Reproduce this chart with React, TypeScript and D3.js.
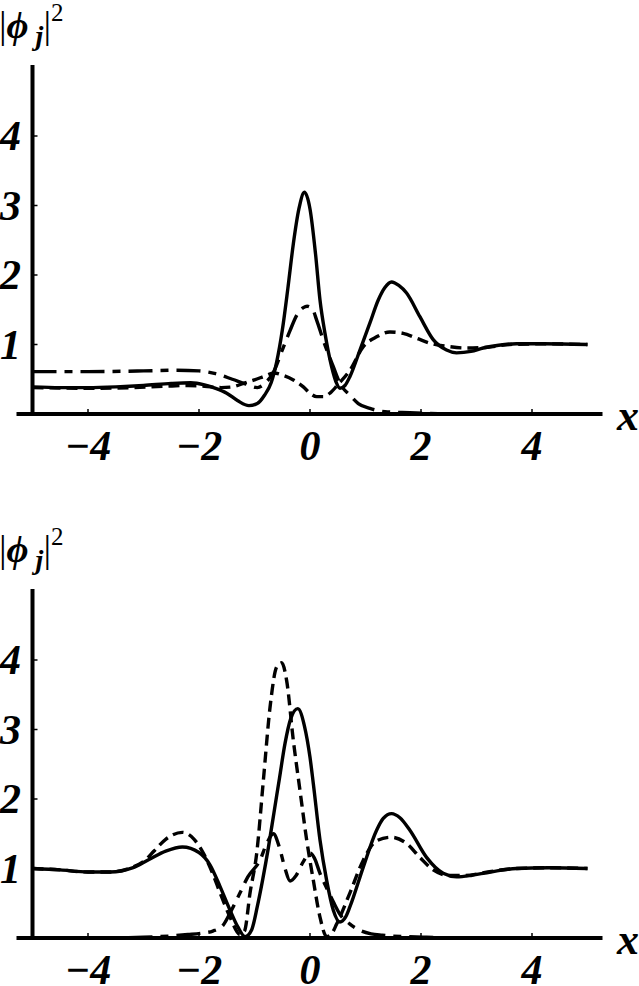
import React from 'react';
import * as d3 from 'd3';

type Pt = [number, number];

// axis ticks
const X_TICKS = [-4, -2, 0, 2, 4];
const Y_TICKS = [1, 2, 3, 4];

// upper panel
const topSolid: Pt[] = [
  [-5, 0.39], [-4.5, 0.38], [-4, 0.38], [-3.5, 0.39], [-3, 0.41], [-2.5, 0.44], [-2.15, 0.45],
  [-1.9, 0.42], [-1.7, 0.37], [-1.5, 0.3], [-1.3, 0.19], [-1.1, 0.12], [-0.95, 0.15], [-0.82, 0.27],
  [-0.7, 0.45], [-0.6, 0.75], [-0.5, 1.2], [-0.4, 1.8], [-0.3, 2.45], [-0.2, 2.95], [-0.1, 3.19],
  [0.0, 2.95], [0.1, 2.3], [0.18, 1.64], [0.27, 1.16], [0.39, 0.68], [0.48, 0.44], [0.54, 0.37],
  [0.63, 0.41], [0.72, 0.54], [0.9, 0.92], [1.08, 1.31], [1.23, 1.64], [1.35, 1.82], [1.47, 1.9],
  [1.6, 1.85], [1.74, 1.74], [1.98, 1.4], [2.22, 1.07], [2.46, 0.92], [2.64, 0.88], [2.9, 0.9],
  [3.12, 0.95], [3.4, 0.99], [3.72, 1.01], [4.2, 1.01], [5, 1.0],
];
const topDash: Pt[] = [
  [-5, 0.38], [-4, 0.37], [-3.2, 0.38], [-2.6, 0.4], [-2.2, 0.41], [-1.9, 0.4], [-1.6, 0.38],
  [-1.4, 0.39], [-1.2, 0.44], [-1.0, 0.49], [-0.8, 0.55], [-0.65, 0.59], [-0.5, 0.56], [-0.3, 0.49],
  [-0.12, 0.39], [0.0, 0.3], [0.12, 0.25], [0.24, 0.25], [0.36, 0.3], [0.5, 0.42], [0.72, 0.63],
  [0.96, 0.97], [1.2, 1.11], [1.44, 1.18], [1.68, 1.16], [1.92, 1.09], [2.2, 1.01], [2.5, 0.97],
  [2.8, 0.95], [3.2, 0.96], [3.6, 1.0], [4.2, 1.01], [5, 1.0],
];
const topDashDot: Pt[] = [
  [-5, 0.61], [-4, 0.61], [-3, 0.62], [-2.4, 0.63], [-2.0, 0.62], [-1.7, 0.58], [-1.4, 0.5],
  [-1.15, 0.43], [-0.95, 0.38], [-0.8, 0.45], [-0.66, 0.6], [-0.5, 0.92], [-0.36, 1.2],
  [-0.24, 1.42], [-0.12, 1.53], [-0.05, 1.55], [0.05, 1.5], [0.12, 1.35], [0.24, 1.06],
  [0.42, 0.68], [0.54, 0.44], [0.72, 0.27], [0.87, 0.15], [1.08, 0.08], [1.4, 0.03], [1.8, 0.02],
  [2.5, 0.0], [5, 0.0],
];

// lower panel
const botSolid: Pt[] = [
  [-5, 1.0], [-4.5, 0.98], [-4.0, 0.95], [-3.6, 0.95], [-3.2, 1.01], [-2.9, 1.13], [-2.6, 1.25],
  [-2.3, 1.31], [-2.0, 1.23], [-1.8, 1.05], [-1.62, 0.74], [-1.44, 0.4], [-1.3, 0.16],
  [-1.17, 0.02], [-1.05, 0.12], [-0.95, 0.45], [-0.85, 0.85], [-0.75, 1.3], [-0.65, 1.8],
  [-0.55, 2.3], [-0.45, 2.8], [-0.35, 3.15], [-0.22, 3.3], [-0.1, 3.05], [0.0, 2.6], [0.06, 2.22],
  [0.18, 1.41], [0.3, 0.83], [0.42, 0.4], [0.54, 0.23], [0.64, 0.3], [0.72, 0.45], [0.96, 1.02],
  [1.2, 1.55], [1.32, 1.72], [1.47, 1.79], [1.62, 1.73], [1.8, 1.55], [2.1, 1.16], [2.4, 0.93],
  [2.64, 0.88], [2.9, 0.9], [3.12, 0.93], [3.72, 1.0], [4.3, 1.01], [5, 1.0],
];
const botDash: Pt[] = [
  [-5, 1.0], [-4.5, 0.98], [-4.0, 0.95], [-3.6, 0.95], [-3.2, 1.02], [-3.0, 1.1], [-2.8, 1.26],
  [-2.6, 1.42], [-2.3, 1.52], [-2.1, 1.43], [-1.92, 1.22], [-1.75, 0.92], [-1.62, 0.65],
  [-1.44, 0.3], [-1.26, 0.05], [-1.18, 0.1], [-1.08, 0.65], [-0.96, 1.22], [-0.84, 2.27],
  [-0.72, 3.32], [-0.6, 3.9], [-0.51, 3.96], [-0.42, 3.7], [-0.3, 2.84], [-0.18, 2.12],
  [-0.06, 1.41], [0.06, 0.83], [0.18, 0.3], [0.3, 0.02], [0.38, 0.05], [0.48, 0.2], [0.72, 0.65],
  [0.96, 1.12], [1.2, 1.4], [1.47, 1.45], [1.74, 1.36], [1.98, 1.16], [2.22, 0.98], [2.5, 0.9],
  [2.8, 0.9], [3.2, 0.95], [3.72, 1.0], [4.3, 1.01], [5, 1.0],
];
const botDashDot: Pt[] = [
  [-5, 0.0], [-4, 0.0], [-3.5, 0.0], [-3, 0.01], [-2.5, 0.03], [-2.2, 0.05], [-1.95, 0.07],
  [-1.75, 0.1], [-1.57, 0.18], [-1.44, 0.36], [-1.26, 0.65], [-1.12, 0.88], [-0.9, 1.12],
  [-0.78, 1.36], [-0.66, 1.5], [-0.55, 1.3], [-0.45, 1.0], [-0.36, 0.82], [-0.25, 0.9],
  [-0.12, 1.1], [0.0, 1.22], [0.08, 1.15], [0.18, 0.93], [0.3, 0.72], [0.42, 0.52], [0.54, 0.34],
  [0.72, 0.2], [0.9, 0.11], [1.1, 0.06], [1.3, 0.04], [1.7, 0.02], [2.1, 0.01], [3, 0.0], [5, 0.0],
];

const FONT = '"Liberation Serif", Tinos, "Times New Roman", Times, "Nimbus Roman", FreeSerif, "DejaVu Serif", serif';
const W = 639;
const H = 986;

const x = d3.scaleLinear().domain([-5, 5]).range([32.5, 587.5]);
const fmt = d3.format('d');

function Panel({ top, series }: { top: number; series: { data: Pt[]; dash?: string }[] }) {
  const y = d3.scaleLinear().domain([0, 5]).range([414, 66.5]);
  const line = d3.line<Pt>().x(d => x(d[0])).y(d => y(d[1])).curve(d3.curveMonotoneX);
  return (
    <g transform={`translate(0,${top})`} style={{ fontFamily: FONT }}>
      {series.map((s, i) => (
        <path key={i} d={line(s.data) || ''} fill="none" stroke="#000" strokeWidth={3.4}
          strokeDasharray={s.dash} strokeLinejoin="round" />
      ))}
      {/* axes */}
      <line x1={x(-5) - 16} x2={x(5) + 15} y1={y(0)} y2={y(0)} stroke="#000" strokeWidth={4} />
      <line x1={x(-5)} x2={x(-5)} y1={y(0)} y2={y(5) - 1.5} stroke="#000" strokeWidth={4} />
      {X_TICKS.map(t => (
        <g key={t}>
          <line x1={x(t)} x2={x(t)} y1={y(0)} y2={y(0) - 5} stroke="#000" strokeWidth={1.5} />
          <text x={x(t)} y={y(0) + 46} textAnchor="middle" fontSize={42} fontStyle="italic"
            fontWeight="bold">{fmt(t)}</text>
        </g>
      ))}
      {Y_TICKS.map(t => (
        <g key={t}>
          <line x1={x(-5)} x2={x(-5) + 5} y1={y(t)} y2={y(t)} stroke="#000" strokeWidth={1.5} />
          <text x={21} y={y(t) + 14} textAnchor="end" fontSize={42} fontStyle="italic"
            fontWeight="bold">{fmt(t)}</text>
        </g>
      ))}
      <text x={617} y={y(0) + 16} fontSize={44} fontStyle="italic" fontWeight="bold">x</text>
      <text x={-1} y={38} fontSize={38}>
        <tspan>|</tspan>
        <tspan fontStyle="italic" fontWeight="bold">ϕ</tspan>
        <tspan fontStyle="italic" fontWeight="bold" fontSize={28} dy={7}> j</tspan>
        <tspan dy={-7}>|</tspan>
        <tspan fontSize={25} dy={-17}>2</tspan>
      </text>
    </g>
  );
}

export default function App() {
  return (
    <svg width={W} height={H} viewBox={`0 0 ${W} ${H}`}
      style={{ position: 'absolute', left: 0, top: 0, background: '#fff' }}>
      <rect width={W} height={H} fill="#fff" />
      <Panel top={0} series={[
        { data: topSolid },
        { data: topDash, dash: '11,6' },
        { data: topDashDot, dash: '24,8,8,8' },
      ]} />
      <Panel top={524} series={[
        { data: botSolid },
        { data: botDash, dash: '11,6' },
        { data: botDashDot, dash: '24,8,8,8' },
      ]} />
    </svg>
  );
}
